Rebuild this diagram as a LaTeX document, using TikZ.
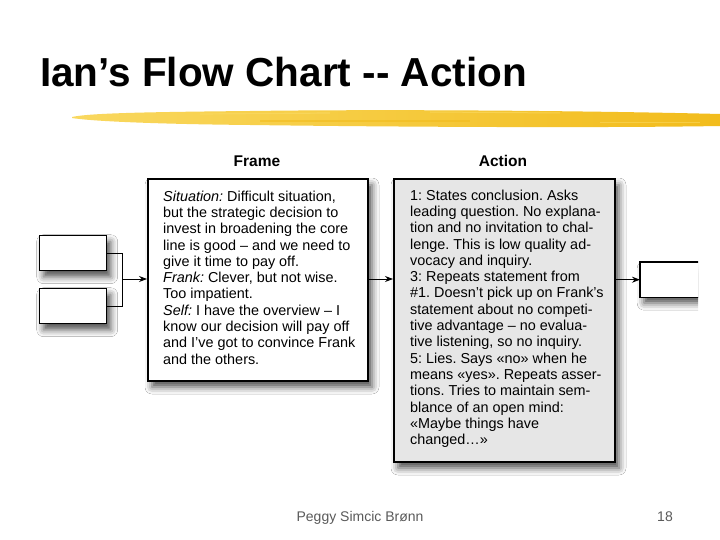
\documentclass[tikz,border=0pt]{standalone}
\usepackage{fontspec}
\setmainfont{Liberation Sans}
\usetikzlibrary{shadows.blur,arrows.meta}
\definecolor{brushdark}{RGB}{242,188,28}
\definecolor{brushlight}{RGB}{249,216,95}
\definecolor{actfill}{RGB}{230,230,230}
\definecolor{footgray}{RGB}{90,90,90}
\tikzset{
  boxshadow/.style={blur shadow={shadow xshift=4pt,shadow yshift=-6pt,shadow blur radius=7pt,shadow opacity=70}},
  bigbox/.style={draw=black,line width=2pt,anchor=north west,inner sep=0pt,boxshadow},
  smallbox/.style={draw=black,line width=1.4pt,fill=white,anchor=north west,inner sep=0pt,minimum width=67pt,minimum height=35pt,boxshadow},
  boxtext/.style={font=\fontsize{14.4}{16.3}\selectfont,align=left,anchor=north west,inner sep=0pt},
  colhead/.style={font=\fontsize{15.5}{18}\selectfont\bfseries,anchor=base},
  conn/.style={line width=1pt,draw=black},
  arr/.style={conn,-{Stealth[length=8pt,width=6pt]}},
  foot/.style={font=\fontsize{14}{16}\selectfont,text=footgray,anchor=base}
}
\frenchspacing
\begin{document}
\begin{tikzpicture}[x=1pt,y=-1pt]
\useasboundingbox (0,0) rectangle (720,540);
\fill[white] (0,0) rectangle (720,540);
% title
\node[anchor=base west,inner sep=0pt,font=\fontsize{40.5}{46}\selectfont\bfseries] (title) at (40,87) {Ian’s Flow Chart -{}- Action};
% brush stroke
\shade[left color=brushlight,right color=brushdark] (72,117) .. controls (90,113) and (150,112) .. (250,111) .. controls (400,109) and (600,111) .. (720,114) -- (720,126) .. controls (600,128) and (400,127) .. (250,125) .. controls (150,124) and (90,121) .. (72,118) -- cycle;
\draw[brushlight,line width=1.2pt,opacity=0.8] (200,114) -- (330,113);
\draw[brushlight,line width=1pt,opacity=0.7] (430,112) -- (560,113);
\draw[brushdark,line width=1.5pt,opacity=0.6] (260,121) -- (470,121);
\draw[brushlight,line width=1pt,opacity=0.6] (600,123) -- (700,123);
% column heads
\node[colhead] (hframe) at (257,167) {Frame};
\node[colhead] (haction) at (503,167) {Action};
% boxes
\node[bigbox,fill=white,minimum width=220pt,minimum height=202pt] (frame) at (147,178) {};
\node[bigbox,fill=actfill,minimum width=221pt,minimum height=283pt] (action) at (393,178) {};
\node[smallbox] (b1) at (39,235) {};
\node[smallbox] (b2) at (39,288) {};
\begin{scope}
\clip (600,200) rectangle (698,340);
\node[anchor=north west,inner sep=0pt,fill=white,minimum width=70pt,minimum height=35pt,boxshadow] (rbox) at (640,262) {};
\draw[line width=1.6pt] (rbox.north east) -- (rbox.north west) -- (rbox.south west) -- (rbox.south east);
\end{scope}
% texts
\node[boxtext] (ftext) at (163,190.5) {\textit{Situation:} Difficult situation,\\
but the strategic decision to\\
invest in broadening the core\\
line is good – and we need to\\
give it time to pay off.\\
\textit{Frank:} Clever, but not wise.\\
Too impatient.\\
\textit{Self:} I have the overview – I\\
know our decision will pay off\\
and I’ve got to convince Frank\\
and the others.};
\node[boxtext] (atext) at (410,189.5) {1: States conclusion. Asks\\
leading question. No explana-\\
tion and no invitation to chal-\\
lenge. This is low quality ad-\\
vocacy and inquiry.\\
3: Repeats statement from\\
\#1. Doesn’t pick up on Frank’s\\
statement about no competi-\\
tive advantage – no evalua-\\
tive listening, so no inquiry.\\
5: Lies. Says «no» when he\\
means «yes». Repeats asser-\\
tions. Tries to maintain sem-\\
blance of an open mind:\\
«Maybe things have\\
changed…»};
% connectors
\coordinate (j) at (122,279);
\draw[conn] (b1.east) -| (j);
\draw[conn] (b2.east) -| (j);
\draw[arr] (j) -- (frame.west |- j);
\draw[arr] (frame.east |- j) -- (action.west |- j);
\draw[arr] (action.east |- rbox.west) -- (rbox.west);
% footer
\node[foot] (author) at (360,521) {Peggy Simcic Brønn};
\node[foot] (page) at (665,521) {18};
\end{tikzpicture}
\end{document}
